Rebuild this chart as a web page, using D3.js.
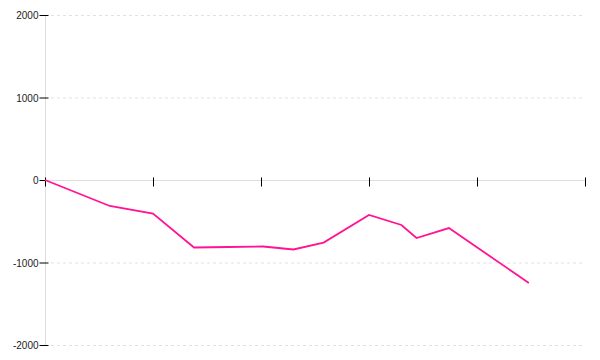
<!doctype html>
<html lang="en">
<head>
<meta charset="utf-8">
<title>Line chart</title>
<script src="https://cdn.jsdelivr.net/npm/d3@7"></script>
<style>
  body { margin: 0; background: #fff; }
  svg text { font-family: "Liberation Sans", Arial, sans-serif; font-size: 10px; fill: #222; }
</style>
</head>
<body>
<svg id="chart" width="600" height="360"></svg>
<script>
// data (x in tick units, one tick every 5)
var xValues = [0, 3.0, 5.0, 6.9, 8.5, 10.1, 11.5, 12.9, 15.0, 16.5, 17.2, 18.7, 22.4];
var yValues = [0, -315, -406, -818, -812, -806, -842, -758, -424, -545, -703, -582, -1248];
var xTicks = [0, 5, 10, 15, 20, 25];
var yTicks = [-2000, -1000, 0, 1000, 2000];

var svg = d3.select("#chart");
// note: "top" is taken by window.top, so use other names
var plotLeft = 45, plotRight = 585, plotTop = 15, plotBottom = 345;

var x = d3.scaleLinear().domain([0, 25]).range([plotLeft, plotRight]);
var y = d3.scaleLinear().domain([-2000, 2000]).range([plotBottom, plotTop]);

// dotted grid lines
svg.append("g")
  .selectAll("line")
  .data(yTicks.filter(function(d) { return d != 0; }))
  .enter().append("line")
  .attr("x1", plotLeft + 6).attr("x2", plotRight)
  .attr("y1", function(d) { return y(d) + 0.5; })
  .attr("y2", function(d) { return y(d) + 0.5; })
  .attr("stroke", "#e2e2e2")
  .attr("stroke-dasharray", "3,3");

// y axis
var yAxis = svg.append("g").attr("transform", "translate(" + (plotLeft + 0.5) + ",0)");
yAxis.append("line")
  .attr("y1", plotTop).attr("y2", plotBottom)
  .attr("stroke", "#ddd");
var yt = yAxis.selectAll(".tick")
  .data(yTicks)
  .enter().append("g")
  .attr("transform", function(d) { return "translate(0," + (y(d) + 0.5) + ")"; });
yt.append("line").attr("x1", -6).attr("x2", 3).attr("stroke", "#000");
yt.append("text")
  .attr("x", -7).attr("dy", "0.35em")
  .attr("text-anchor", "end")
  .text(function(d) { return d; });

// x axis along zero
var xAxis = svg.append("g").attr("transform", "translate(0," + (y(0) + 0.5) + ")");
xAxis.append("line")
  .attr("x1", plotLeft).attr("x2", plotRight)
  .attr("stroke", "#ddd");
xAxis.selectAll(".tick")
  .data(xTicks)
  .enter().append("line")
  .attr("x1", function(d) { return x(d) + 0.5; })
  .attr("x2", function(d) { return x(d) + 0.5; })
  .attr("y1", -3).attr("y2", 6)
  .attr("stroke", "#000");

// the line
var pts = xValues.map(function(d, i) { return [d, yValues[i]]; });
svg.append("path")
  .datum(pts)
  .attr("fill", "none")
  .attr("stroke", "#ff1493")
  .attr("stroke-width", 1.8)
  .attr("d", d3.line()
    .x(function(d) { return x(d[0]); })
    .y(function(d) { return y(d[1]); }));
</script>
</body>
</html>
